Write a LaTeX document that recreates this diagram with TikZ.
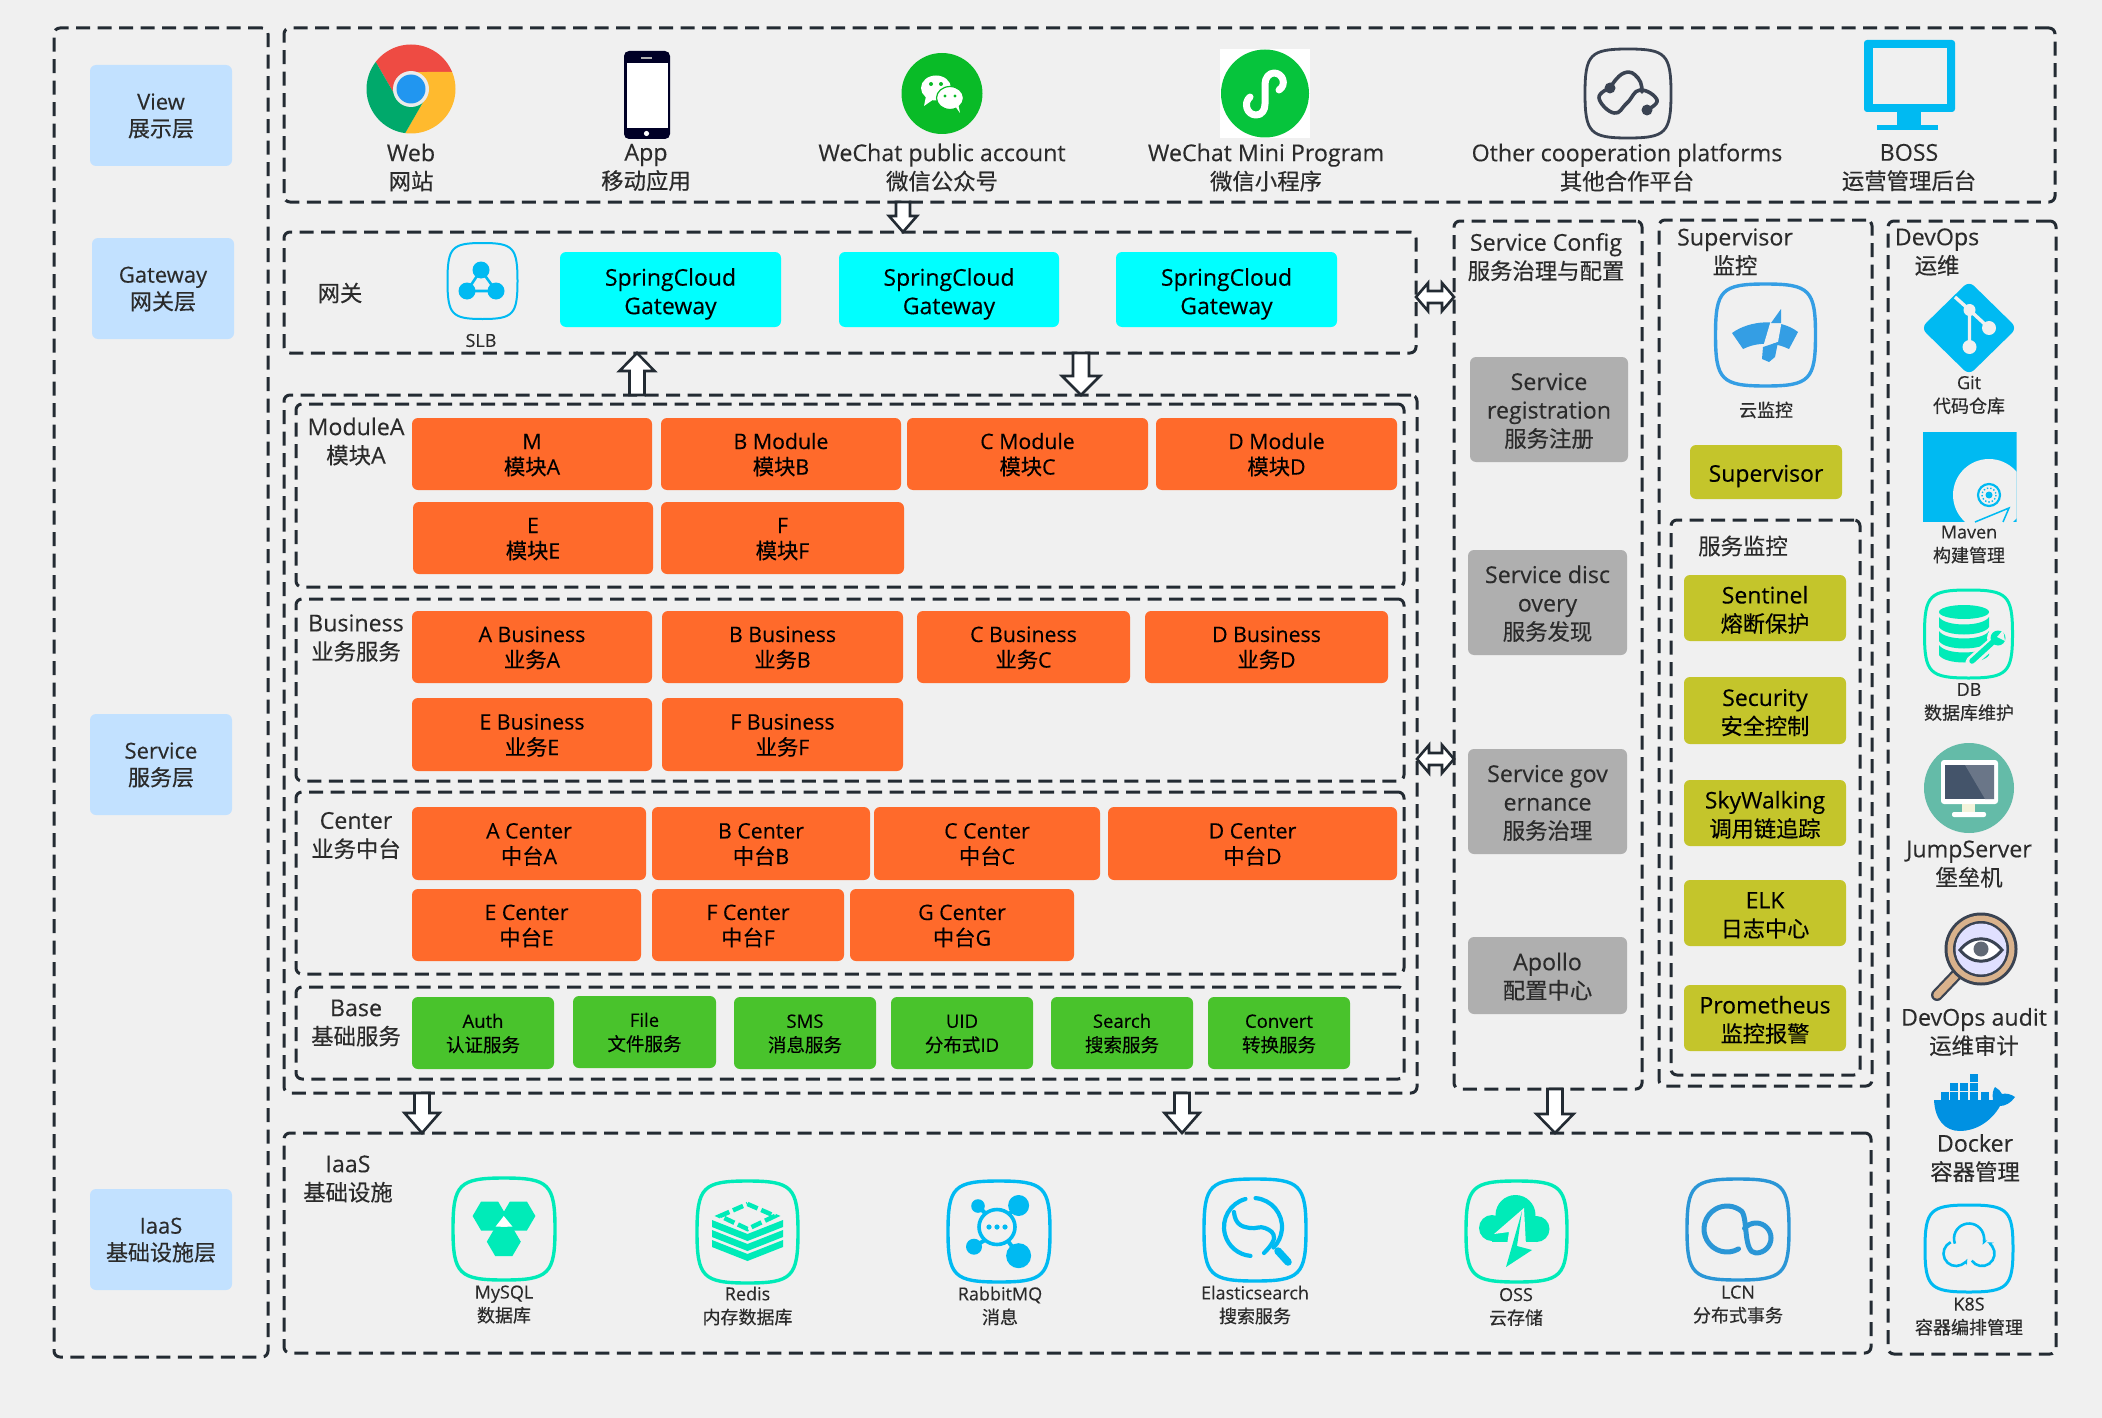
\documentclass[tikz,border=0pt]{standalone}
\usepackage{fontspec}
\setmainfont{Open Sans}[FakeBold=0.25]
\newfontfamily\cjk{Noto Sans CJK SC}[FakeBold=0.35]
\newfontfamily\cjksm{Noto Sans CJK SC}[Scale=0.965,FakeBold=0.35]
\newcommand{\zh}[1]{{\cjk #1}}
\newcommand{\rz}{0pt}
\usetikzlibrary{calc,arrows.meta}
\definecolor{bgc}{HTML}{F0F0F0}
\definecolor{dark}{HTML}{232B33}
\definecolor{txtc}{HTML}{2B2B2B}
\definecolor{lblue}{HTML}{C2E1FF}
\definecolor{cyanc}{HTML}{00FFFF}
\definecolor{orgc}{HTML}{FF6A2B}
\definecolor{grnc}{HTML}{49C32C}
\definecolor{yelc}{HTML}{C4C52B}
\definecolor{gryc}{HTML}{AFAFAF}
\definecolor{teal}{HTML}{00EBB8}
\definecolor{sky}{HTML}{00BAF2}
\definecolor{midb}{HTML}{349EE4}
\definecolor{lcnb}{HTML}{2A96D6}
\definecolor{chR}{HTML}{EE4B43}
\definecolor{chY}{HTML}{FFBA2E}
\definecolor{chG}{HTML}{00A96B}
\definecolor{chB}{HTML}{2196F0}
\definecolor{wxg}{HTML}{09BB27}
\definecolor{mpg}{HTML}{06C43C}
\definecolor{slate}{HTML}{3A4352}
\definecolor{scrd}{HTML}{44546A}
\definecolor{scrl}{HTML}{6A7688}
\definecolor{jmpg}{HTML}{64BBA8}
\definecolor{docb}{HTML}{0091E2}
\tikzset{
 frame/.style={draw=dark,line width=3pt,dash pattern=on 14pt off 7.5pt,rounded corners=6pt,inner sep=0pt,outer sep=0pt},
 solidbox/.style={rounded corners=6pt,inner sep=0pt,outer sep=0pt,text=black,font=\fontsize{22}{28.5}\selectfont},
 boxblue/.style={solidbox,fill=lblue,text=txtc,font=\fontsize{22}{27}\selectfont\renewcommand{\rz}{-2.2pt}},
 boxcyan/.style={solidbox,fill=cyanc,font=\fontsize{23}{28.5}\selectfont\renewcommand{\rz}{-4.7pt}},
 boxorg/.style={solidbox,fill=orgc,font=\fontsize{21.3}{25.5}\selectfont\renewcommand{\rz}{-2.7pt}},
 boxgrn/.style={solidbox,fill=grnc,font=\fontsize{18.5}{24}\selectfont\renewcommand{\rz}{-2pt}},
 boxyel/.style={solidbox,fill=yelc,font=\fontsize{23}{28.5}\selectfont\let\cjk\cjksm\renewcommand{\rz}{-4pt}},
 boxgry/.style={solidbox,fill=gryc,text=txtc,font=\fontsize{23.2}{28.5}\selectfont\let\cjk\cjksm\renewcommand{\rz}{-3.3pt}},
 lbig/.style={inner sep=0pt,align=center,text=txtc,font=\fontsize{23.2}{28.5}\selectfont\let\cjk\cjksm},
 lsmall/.style={inner sep=0pt,align=center,text=txtc,yshift=-1.5pt,font=\fontsize{18}{23.5}\selectfont},
 blockarrow/.style={draw=dark,fill=white,line width=2.6pt,line join=miter},
 iconline/.style={line cap=round,line join=round},
}
\newcommand{\bx}[7]{\node[#1,minimum width={(#5-#3)*1pt},minimum height={(#6-#4)*1pt}] (#2) at ({(#3+#5)/2},{(#4+#6)/2}) {\raisebox{\rz}[\height][\depth]{\begin{tabular}{@{}c@{}}#7\end{tabular}}};}
\newcommand{\lab}[5]{\node[#1] (#2) at (#3,#4) {#5};}
\newcommand{\sqc}[6]{\begin{scope}[shift={(#1,#2)},x=#3pt,y=#4pt]
\draw[#5,line width=#6pt] (0,-1) .. controls (.88,-1) and (1,-.88) .. (1,0) .. controls (1,.88) and (.88,1) .. (0,1) .. controls (-.88,1) and (-1,.88) .. (-1,0) .. controls (-1,-.88) and (-.88,-1) .. (0,-1) -- cycle;
\end{scope}}
\newcommand{\blockarr}[5]{\coordinate (hh) at ($(#2)!#5!(#1)$);
\draw[blockarrow] ($(#1)!#3!90:(#2)$) -- ($(hh)!#3!90:(#2)$) -- ($(hh)!#4!90:(#2)$) -- (#2) -- ($(hh)!#4!-90:(#2)$) -- ($(hh)!#3!-90:(#2)$) -- ($(#1)!#3!-90:(#2)$) -- cycle;}
\newcommand{\dblarr}[5]{\coordinate (ha) at ($(#1)!#5!(#2)$);\coordinate (hb) at ($(#2)!#5!(#1)$);
\draw[blockarrow] (#1) -- ($(ha)!#4!90:(#2)$) -- ($(ha)!#3!90:(#2)$) -- ($(hb)!#3!90:(#2)$) -- ($(hb)!#4!90:(#2)$) -- (#2) -- ($(hb)!#4!-90:(#2)$) -- ($(hb)!#3!-90:(#2)$) -- ($(ha)!#3!-90:(#2)$) -- ($(ha)!#4!-90:(#2)$) -- cycle;}
\begin{document}
\begin{tikzpicture}[x=1pt,y=-1pt]
\useasboundingbox (0,0) rectangle (2102,1418);
\fill[bgc] (0,0) rectangle (2102,1418);
% frames
\bx{frame}{fLeft}{54}{28}{268}{1357}{}
\bx{frame}{fView}{284}{28}{2055}{202}{}
\bx{frame}{fGate}{284}{232}{1416}{353}{}
\bx{frame}{fServ}{284}{395}{1417}{1093}{}
\bx{frame}{fMod}{296}{404}{1404}{587}{}
\bx{frame}{fBus}{296}{599}{1404}{781}{}
\bx{frame}{fCen}{296}{792}{1404}{974}{}
\bx{frame}{fBase}{296}{987}{1404}{1079}{}
\bx{frame}{fCfg}{1454}{221}{1642}{1089}{}
\bx{frame}{fSup}{1659}{220}{1872}{1086}{}
\bx{frame}{fMon}{1671}{520}{1860}{1075}{}
\bx{frame}{fDev}{1888}{221}{2056}{1354}{}
\bx{frame}{fIaas}{284}{1133}{1871}{1353}{}
% layer labels
\bx{boxblue}{lView}{90}{65}{232}{166}{View\\\zh{展示层}}
\bx{boxblue}{lGate}{92}{238}{234}{339}{Gateway\\\zh{网关层}}
\bx{boxblue}{lServ}{90}{714}{232}{815}{Service\\\zh{服务层}}
\bx{boxblue}{lIaas}{90}{1189}{232}{1290}{IaaS\\\zh{基础设施层}}
% view icons
\begin{scope}[shift={(411,89)},y=1pt]
\begin{scope}
\clip (0,0) circle[radius=44.5];
\foreach \a/\c in {0/chR,-120/chY,120/chG} {\fill[\c,rotate=\a] (0,17)--(60,17)--(60,70)--(-54.7,70)--(-54.7,60.6)--(-14.7,-8.5)--(0,0)--cycle;}
\end{scope}
\fill[white!92!black] (0,0) circle[radius=18];
\fill[chB] (0,0) circle[radius=14.5];
\end{scope}
\fill[black!85!blue,rounded corners=5pt] (624,51) rectangle (670,139);
\fill[white] (627,63) rectangle (668,128);
\fill[white] (646.5,133.5) circle[radius=2.6];
\fill[white!70!black] (641,57.5) rectangle (652,58.8);
\fill[wxg] (942,93.5) circle[radius=40.5];
\fill[white] (936,88) ellipse[x radius=15,y radius=12.5];
\fill[white] (926,96) -- (924,106) -- (934,99) -- cycle;
\filldraw[white,draw=wxg,line width=1.2pt] (950,98) ellipse[x radius=13.5,y radius=11.5];
\fill[white] (955,106) -- (960,113) -- (958,103) -- cycle;
\fill[wxg] (931,84) circle[radius=2] (941,84) circle[radius=2] (945,96) circle[radius=1.7] (955,96) circle[radius=1.7];
\fill[white] (1220,49) rectangle (1310,138);
\fill[mpg] (1265,93.5) circle[radius=44];
\draw[white,line width=7pt,iconline] (1250,97) .. controls (1243,103) and (1247,115) .. (1256,115) .. controls (1262,115) and (1265,110) .. (1265,104) -- (1265,84) .. controls (1265,78) and (1269,73) .. (1274,73) .. controls (1283,73) and (1287,85) .. (1279,90);
\sqc{1628}{93.5}{43}{44.5}{slate}{2.8}
\draw[slate,line width=3.6pt,iconline] plot[smooth,tension=.8] coordinates {(1610,88) (1599,98) (1614,113) (1627,103) (1640,90) (1657,100) (1647,110)};
\draw[slate,line width=3.6pt,iconline] plot[smooth,tension=.9] coordinates {(1610,88) (1624,73) (1638,78) (1642,92)};
\fill[slate] (1610,88) circle[radius=5.5] (1647,110) circle[radius=5.5];
\fill[sky,rounded corners=3pt] (1864,40) rectangle (1955,112);
\fill[bgc] (1873,48) rectangle (1947,104);
\fill[sky] (1897,110) rectangle (1921,126);
\fill[sky] (1877,125) rectangle (1938,130);
% view labels
\lab{lbig}{tWeb}{411}{167.5}{Web\\\zh{网站}}
\lab{lbig}{tApp}{646}{167.5}{App\\\zh{移动应用}}
\lab{lbig}{tWx}{942}{167.5}{WeChat public account\\\zh{微信公众号}}
\lab{lbig}{tMp}{1266}{167.5}{WeChat Mini Program\\\zh{微信小程序}}
\lab{lbig}{tOther}{1627}{167.5}{Other cooperation platforms\\\zh{其他合作平台}}
\lab{lbig}{tBoss}{1909}{167.5}{BOSS\\\zh{运营管理后台}}
% gateway
\lab{lbig}{tGw}{340}{293}{\zh{网关}}
\sqc{482.5}{281}{35}{38}{sky}{2}
\draw[sky,line width=2.6pt] (481,270) -- (467,291) -- (496,291) -- cycle;
\fill[sky] (481,270) circle[radius=8.5] (467,291) circle[radius=8.5] (496,291) circle[radius=8.5];
\lab{lsmall}{tSlb}{481}{339}{SLB}
\bx{boxcyan}{gw1}{560}{252}{781}{327}{SpringCloud\\Gateway}
\bx{boxcyan}{gw2}{839}{252}{1059}{327}{SpringCloud\\Gateway}
\bx{boxcyan}{gw3}{1116}{252}{1337}{327}{SpringCloud\\Gateway}
% module
\lab{lbig}{tMod}{356}{441.5}{ModuleA\\\zh{模块}A}
\bx{boxorg}{m1}{412}{418}{652}{490}{M\\\zh{模块}A}
\bx{boxorg}{m2}{661}{418}{901}{490}{B Module\\\zh{模块}B}
\bx{boxorg}{m3}{907}{418}{1148}{490}{C Module\\\zh{模块}C}
\bx{boxorg}{m4}{1156}{418}{1397}{490}{D Module\\\zh{模块}D}
\bx{boxorg}{m5}{413}{502}{653}{574}{E\\\zh{模块}E}
\bx{boxorg}{m6}{661}{502}{904}{574}{F\\\zh{模块}F}
% business
\lab{lbig}{tBus}{356}{638}{Business\\\zh{业务服务}}
\bx{boxorg}{b1}{412}{611}{652}{683}{A Business\\\zh{业务}A}
\bx{boxorg}{b2}{662}{611}{903}{683}{B Business\\\zh{业务}B}
\bx{boxorg}{b3}{917}{611}{1130}{683}{C Business\\\zh{业务}C}
\bx{boxorg}{b4}{1145}{611}{1388}{683}{D Business\\\zh{业务}D}
\bx{boxorg}{b5}{412}{698}{652}{771}{E Business\\\zh{业务}E}
\bx{boxorg}{b6}{662}{698}{903}{771}{F Business\\\zh{业务}F}
% center
\lab{lbig}{tCen}{356}{835.5}{Center\\\zh{业务中台}}
\bx{boxorg}{c1}{412}{807}{646}{880}{A Center\\\zh{中台}A}
\bx{boxorg}{c2}{652}{807}{870}{880}{B Center\\\zh{中台}B}
\bx{boxorg}{c3}{874}{807}{1100}{880}{C Center\\\zh{中台}C}
\bx{boxorg}{c4}{1108}{807}{1397}{880}{D Center\\\zh{中台}D}
\bx{boxorg}{c5}{412}{889}{641}{961}{E Center\\\zh{中台}E}
\bx{boxorg}{c6}{652}{889}{844}{961}{F Center\\\zh{中台}F}
\bx{boxorg}{c7}{850}{889}{1074}{961}{G Center\\\zh{中台}G}
% base
\lab{lbig}{tBase}{356}{1023}{Base\\\zh{基础服务}}
\bx{boxgrn}{g1}{412}{997}{554}{1069}{Auth\\\zh{认证服务}}
\bx{boxgrn}{g2}{573}{996}{716}{1068}{File\\\zh{文件服务}}
\bx{boxgrn}{g3}{734}{997}{876}{1069}{SMS\\\zh{消息服务}}
\bx{boxgrn}{g4}{891}{997}{1033}{1069}{UID\\\zh{分布式}ID}
\bx{boxgrn}{g5}{1051}{997}{1193}{1069}{Search\\\zh{搜索服务}}
\bx{boxgrn}{g6}{1208}{997}{1350}{1069}{Convert\\\zh{转换服务}}
% service config
\lab{lbig}{tCfg}{1546}{257}{Service Config\\\zh{服务治理与配置}}
\bx{boxgry}{s1}{1470}{357}{1628}{462}{Service\\registration\\\zh{服务注册}}
\bx{boxgry}{s2}{1468}{550}{1627}{655}{Service disc\\overy\\\zh{服务发现}}
\bx{boxgry}{s3}{1468}{749}{1627}{854}{Service gov\\ernance\\\zh{服务治理}}
\bx{boxgry}{s4}{1468}{937}{1627}{1014}{Apollo\\\zh{配置中心}}
% supervisor
\lab{lbig}{tSup}{1735}{252}{Supervisor\\\zh{监控}}
\sqc{1765.5}{335}{50}{51}{midb}{3.4}
\fill[midb] (1732,333) .. controls (1750,320) and (1780,318) .. (1798,332) -- (1789,349) .. controls (1775,342) and (1757,342) .. (1743,349) -- cycle;
\fill[bgc] (1771,320) -- (1782,320) -- (1778,342) -- (1763,347) -- cycle;
\fill[midb] (1781,309) -- (1781,323) -- (1771,323) -- cycle;
\fill[midb] (1778,342) -- (1763,347) -- (1762,359) -- (1769,362) -- (1775,357) -- cycle;
\lab{lsmall}{tCm}{1766}{408.5}{\zh{云监控}}
\bx{boxyel}{y0}{1690}{445}{1842}{499}{Supervisor}
\lab{lbig}{tMon}{1743}{546}{\zh{服务监控}}
\bx{boxyel}{y1}{1684}{575}{1846}{641}{Sentinel\\\zh{熔断保护}}
\bx{boxyel}{y2}{1684}{677}{1846}{744}{Security\\\zh{安全控制}}
\bx{boxyel}{y3}{1684}{780}{1846}{846}{SkyWalking\\\zh{调用链追踪}}
\bx{boxyel}{y4}{1684}{880}{1846}{946}{ELK\\\zh{日志中心}}
\bx{boxyel}{y5}{1684}{985}{1846}{1051}{Prometheus\\\zh{监控报警}}
% devops
\lab{lbig}{tDev}{1937}{252}{DevOps\\\zh{运维}}
\fill[sky,rounded corners=7pt] (1969,281) -- (2017,328) -- (1969,375) -- (1921,328) -- cycle;
\draw[bgc,line width=3.4pt] (1955,297) -- (1969.5,310) -- (1969.5,347);
\draw[bgc,line width=3.4pt] (1969.5,310) -- (1989,328);
\fill[bgc] (1969.5,310) circle[radius=6] (1969.5,347) circle[radius=7] (1989,328) circle[radius=7];
\lab{lsmall}{tGit}{1969}{393.5}{Git\\\zh{代码仓库}}
\begin{scope}
\clip (1923,432) rectangle (2016.5,522);
\fill[sky] (1923,432) rectangle (2016.5,522);
\fill[bgc] (1989,495) circle[radius=36];
\draw[sky,line width=2.2pt] (1989,495) circle[radius=11];
\fill[sky] (1989,495) circle[radius=3.5];
\draw[sky,line width=1.4pt,dotted] (1989,495) circle[radius=7];
\draw[sky,line width=1.5pt] (1975,522) -- (2009,508) -- (2003,522);
\end{scope}
\lab{lsmall}{tMvn}{1969}{543}{Maven\\\zh{构建管理}}
\sqc{1968.5}{634}{44}{44}{teal}{3}
\fill[teal] (1964,612) ellipse[x radius=25,y radius=7];
\foreach \d in {0,14,28} {\fill[teal] (1939,{617+\d}) .. controls (1945,{627+\d}) and (1983,{627+\d}) .. (1989,{617+\d}) -- (1989,{627+\d}) .. controls (1983,{637+\d}) and (1945,{637+\d}) .. (1939,{627+\d}) -- cycle;}
\draw[bgc,line width=11pt,line cap=round] (1971,662) -- (1996,640);
\fill[bgc] (1998,638) circle[radius=11];
\draw[teal,line width=5.5pt,line cap=round] (1972,661) -- (1994,641);
\fill[teal] (1998,638) circle[radius=7.5];
\fill[bgc] (2003,630) -- (1997,637) -- (2005,641) -- cycle;
\lab{lsmall}{tDb}{1969}{700.5}{DB\\\zh{数据库维护}}
\fill[jmpg] (1969,788) circle[radius=45];
\fill[white,rounded corners=3pt] (1941,760) rectangle (1998,804);
\fill[scrd] (1945,765) rectangle (1994,799);
\fill[scrl] (1965,765) -- (1994,765) -- (1994,799) -- (1985,799) -- cycle;
\fill[white!90!olive] (1962,804) rectangle (1975,812);
\fill[white,rounded corners=2pt] (1952,812) rectangle (1986,817);
\lab{lbig}{tJmp}{1969}{864}{JumpServer\\\zh{堡垒机}}
\draw[slate,line width=12pt,line cap=round] (1958,973) -- (1937,995);
\draw[brown!60!white,line width=7.5pt,line cap=round] (1958,973) -- (1937,995);
\fill[slate] (1981,949) circle[radius=36.5];
\fill[brown!60!white] (1981,949) circle[radius=33.5];
\fill[slate] (1981,949) circle[radius=28];
\fill[blue!12!white] (1981,949) circle[radius=25.5];
\filldraw[white,draw=slate,line width=3pt] (1960,950) .. controls (1972,935) and (1990,935) .. (2002,950) .. controls (1990,965) and (1972,965) .. (1960,950) -- cycle;
\fill[slate!80!white] (1981,949) circle[radius=7.5];
\lab{lbig}{tAud}{1974}{1032}{DevOps audit\\\zh{运维审计}}
\fill[docb] (1934,1100) -- (1993,1100) .. controls (1992,1094) and (1993,1090) .. (1995,1087) .. controls (1998,1089) and (2001,1091) .. (2002,1094) .. controls (2006,1093) and (2011,1094) .. (2015,1097) .. controls (2011,1103) and (2005,1106) .. (2000,1106) .. controls (1991,1122) and (1975,1131) .. (1960,1131) .. controls (1945,1131) and (1935,1120) .. (1934,1100) -- cycle;
\foreach \xx/\yy in {1941/1092,1950/1092,1960/1092,1970/1092,1981/1092,1950/1083,1960/1083,1970/1083,1970/1074} {\fill[docb] (\xx,\yy) rectangle ({\xx+8},{\yy+7.5});}
\lab{lbig}{tDoc}{1975}{1158}{Docker\\\zh{容器管理}}
\sqc{1969}{1248.5}{44}{43.5}{sky}{3}
\begin{scope}[shift={(1969,1248.5)},y=1pt]
\draw[sky,line width=2.6pt,-{Stealth[length=6pt]}] ($(0,10)+(200:15)$) arc[start angle=200,end angle=-25,radius=15];
\draw[sky,line width=2.6pt,-{Stealth[length=6pt]}] ($(-13,-5)+(115:12.5)$) arc[start angle=115,end angle=335,radius=12.5];
\draw[sky,line width=2.6pt,-{Stealth[length=6pt]}] ($(13,-5)+(215:12.5)$) arc[start angle=215,end angle=425,radius=12.5];
\end{scope}
\lab{lsmall}{tK8s}{1969}{1315}{K8S\\\zh{容器编排管理}}
% iaas
\lab{lbig}{tIaas}{348}{1179}{IaaS\\\zh{基础设施}}
\sqc{504}{1229}{51}{51}{teal}{3.4}
\foreach \xx/\yy in {489.6/1216,518.4/1216,503.8/1241.7} {\fill[teal] ({\xx-17},\yy) -- ({\xx-8.5},{\yy-14.5}) -- ({\xx+8.5},{\yy-14.5}) -- ({\xx+17},\yy) -- ({\xx+8.5},{\yy+14.5}) -- ({\xx-8.5},{\yy+14.5}) -- cycle;}
\fill[white] (503.8,1216) -- (495.5,1226.7) -- (512.5,1226.7) -- cycle;
\lab{lsmall}{tMy}{504}{1303}{MySQL\\\zh{数据库}}
\sqc{747.5}{1232}{50.5}{51}{teal}{3.4}
\draw[teal,line width=4.5pt,dash pattern=on 11pt off 4pt] (747.5,1204) -- (775,1216) -- (747.5,1229) -- (720,1216) -- cycle;
\foreach \d in {0,10,20} {\fill[teal] (712,{1220+\d}) -- (747.5,{1234+\d}) -- (783,{1220+\d}) -- (783,{1227+\d}) -- (747.5,{1241+\d}) -- (712,{1227+\d}) -- cycle;}
\lab{lsmall}{tRe}{747.5}{1304.5}{Redis\\\zh{内存数据库}}
\sqc{999}{1231.5}{51}{50.5}{sky}{3.4}
\draw[sky,line width=3.6pt] (997,1227) ellipse[x radius=18,y radius=17.5];
\draw[sky,line width=4pt] (978,1206) -- (986,1214) (1018.6,1206) -- (1009,1214) (974,1246.7) -- (985,1240) (1018.6,1255.7) -- (1008,1241);
\fill[sky] (989,1227) circle[radius=2.6] (997,1227) circle[radius=2.6] (1005,1227) circle[radius=2.6];
\fill[sky] (978,1206) circle[radius=6.8] (1018.6,1205.5) circle[radius=10.5] (974,1246.7) circle[radius=8] (1018.6,1255.7) circle[radius=12.5];
\lab{lsmall}{tRb}{1000}{1304.5}{RabbitMQ\\\zh{消息}}
\sqc{1255}{1230}{51}{51}{sky}{3.4}
\begin{scope}[shift={(1253,1227)},y=1pt]
\draw[sky,line width=4.2pt,iconline] (105:29) arc[start angle=105,end angle=265,radius=29];
\draw[sky,line width=4.2pt,iconline] (85:29) arc[start angle=85,end angle=-45,radius=29];
\end{scope}
\draw[sky,line width=4.2pt,iconline] plot[smooth,tension=.8] coordinates {(1234,1212) (1238,1223) (1250,1228) (1265,1228) (1274,1238) (1264,1253)};
\draw[sky,line width=7.5pt,line cap=round] (1278,1251) -- (1288,1262);
\lab{lsmall}{tEs}{1255}{1303.5}{Elasticsearch\\\zh{搜索服务}}
\sqc{1516.5}{1231.5}{50.5}{50.5}{teal}{3.4}
\fill[teal] (1492,1228) circle[radius=13] (1515.5,1215) circle[radius=20] (1536.5,1229) circle[radius=13];
\fill[teal] (1492,1220) rectangle (1536,1242);
\fill[bgc] (1524,1208) -- (1494,1234) -- (1509,1232) -- (1507,1245) -- (1526,1246) -- cycle;
\fill[bgc] (1497,1241.5) rectangle (1512,1246);
\fill[teal] (1522,1211) -- (1506,1267) -- (1532,1250) -- (1517,1246) -- cycle;
\lab{lsmall}{tOss}{1516}{1305.5}{OSS\\\zh{云存储}}
\sqc{1738}{1229.5}{51}{50.5}{lcnb}{3.4}
\begin{scope}[shift={(1727,1229)},y=1pt]
\draw[lcnb,line width=5pt,iconline] (-60:23) arc[start angle=-60,end angle=-310,radius=23] .. controls (21,10) and (16,-24) .. (29,-24) arc[start angle=270,end angle=500,radius=15];
\end{scope}
\lab{lsmall}{tLcn}{1738}{1303}{LCN\\\zh{分布式事务}}
% arrows
\coordinate (a1s) at (903,0 |- fView.south);
\coordinate (a1e) at (903,0 |- fGate.north);
\blockarr{a1s}{a1e}{7pt}{14pt}{16pt}
\coordinate (a2s) at (637,0 |- fServ.north);
\coordinate (a2e) at (637,0 |- fGate.south);
\blockarr{a2s}{a2e}{7.5pt}{17.5pt}{18pt}
\coordinate (a3s) at (1081,0 |- fGate.south);
\coordinate (a3e) at (1081,0 |- fServ.north);
\blockarr{a3s}{a3e}{8pt}{19pt}{19pt}
\coordinate (a4s) at (422,0 |- fServ.south);
\coordinate (a4e) at (422,0 |- fIaas.north);
\blockarr{a4s}{a4e}{7.5pt}{17.5pt}{20pt}
\coordinate (a5s) at (1182,0 |- fServ.south);
\coordinate (a5e) at (1182,0 |- fIaas.north);
\blockarr{a5s}{a5e}{7.5pt}{17.5pt}{20pt}
\coordinate (a6s) at (1555,0 |- fCfg.south);
\coordinate (a6e) at (1555,0 |- fIaas.north);
\blockarr{a6s}{a6e}{7.5pt}{18.5pt}{19pt}
\coordinate (d1a) at (fGate.east |- 0,297);
\coordinate (d1b) at (fCfg.west |- 0,297);
\dblarr{d1a}{d1b}{6pt}{14pt}{12pt}
\coordinate (d2a) at (fServ.east |- 0,759);
\coordinate (d2b) at (fCfg.west |- 0,759);
\dblarr{d2a}{d2b}{6pt}{14pt}{12pt}
\end{tikzpicture}
\end{document}
